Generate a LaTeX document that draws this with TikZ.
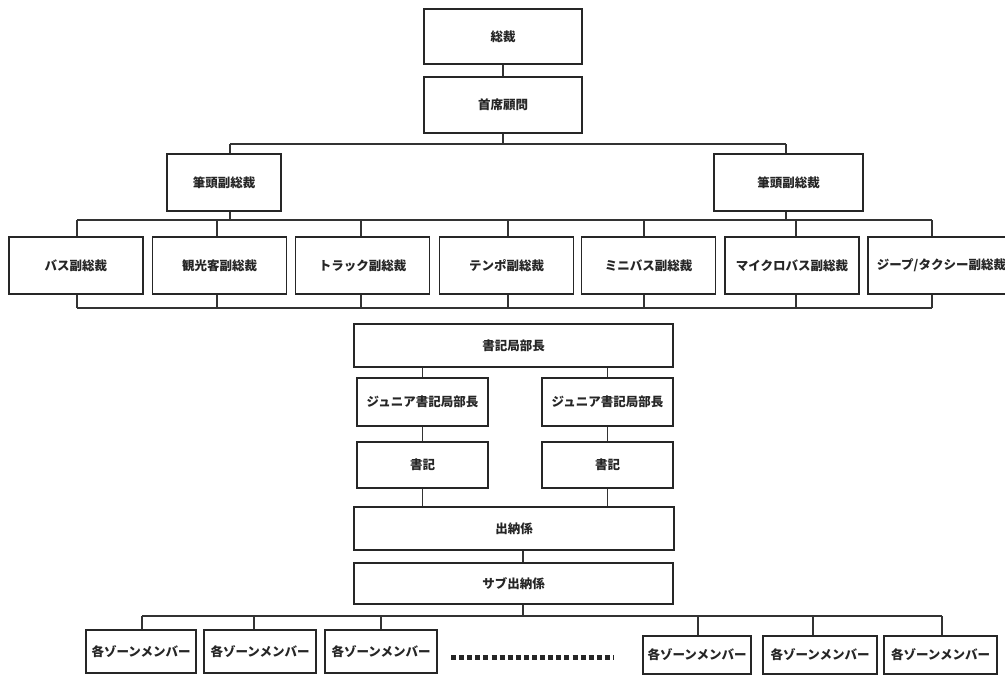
\documentclass[tikz,border=0pt]{standalone}
\usepackage{fontspec}
\newfontfamily\cjk{Noto Sans CJK JP}
\begin{document}
\begin{tikzpicture}[x=1pt,y=-1pt,
  box/.style={draw=black!85, line width=1.4pt, fill=white, inner sep=0pt, align=center,
    font=\cjk\bfseries\fontsize{12.5}{14}\selectfont, text=black!85},
  conn/.style={draw=black!80, line width=1.3pt}]
\useasboundingbox (0,0) rectangle (1005,675);
\clip (0,0) rectangle (1005,675);
\fill[white] (0,0) rectangle (1005,675);
% top
\node[box, minimum width=158pt, minimum height=55pt] (pres) at (503,36.5) {総裁};
\node[box, minimum width=158pt, minimum height=56pt] (adv) at (503,105) {首席顧問};
\node[box, minimum width=114pt, minimum height=57pt] (svpL) at (224,182.5) {筆頭副総裁};
\node[box, minimum width=149pt, minimum height=57pt] (svpR) at (788.5,182.5) {筆頭副総裁};
% vice presidents
\node[box, minimum width=134pt, minimum height=57pt] (vp1) at (76,265.5) {バス副総裁};
\node[box, minimum width=134pt, minimum height=57pt] (vp2) at (219.5,265.5) {観光客副総裁};
\node[box, minimum width=134pt, minimum height=57pt] (vp3) at (362.5,265.5) {トラック副総裁};
\node[box, minimum width=134pt, minimum height=57pt] (vp4) at (506.5,265.5) {テンポ副総裁};
\node[box, minimum width=134pt, minimum height=57pt] (vp5) at (648.5,265.5) {ミニバス副総裁};
\node[box, minimum width=134pt, minimum height=57pt] (vp6) at (792,265.5) {マイクロバス副総裁};
\node[box, minimum width=147pt, minimum height=57pt] (vp7) at (941.5,265.5) {ジープ/タクシー副総裁};
% secretariat
\node[box, minimum width=319pt, minimum height=43pt] (sec) at (513.5,345.5) {書記局部長};
\node[box, minimum width=131pt, minimum height=48pt] (jsL) at (422.5,402) {ジュニア書記局部長};
\node[box, minimum width=131pt, minimum height=48pt] (jsR) at (607.5,402) {ジュニア書記局部長};
\node[box, minimum width=131pt, minimum height=46pt] (clL) at (422.5,465) {書記};
\node[box, minimum width=131pt, minimum height=46pt] (clR) at (607.5,465) {書記};
\node[box, minimum width=320pt, minimum height=43pt] (cash) at (514,528.5) {出納係};
\node[box, minimum width=319pt, minimum height=41pt] (sub) at (513.5,583.5) {サブ出納係};
% members
\node[box, minimum width=110pt, minimum height=43pt] (m1) at (141,651.5) {各ゾーンメンバー};
\node[box, minimum width=112pt, minimum height=43pt] (m2) at (260,651.5) {各ゾーンメンバー};
\node[box, minimum width=112pt, minimum height=43pt] (m3) at (381,651.5) {各ゾーンメンバー};
\node[box, minimum width=108pt, minimum height=38pt] (m4) at (697,655) {各ゾーンメンバー};
\node[box, minimum width=114pt, minimum height=38pt] (m5) at (820,655) {各ゾーンメンバー};
\node[box, minimum width=113pt, minimum height=38pt] (m6) at (940.5,655) {各ゾーンメンバー};
% dots
\draw[black!85, line width=5pt, dash pattern=on 5pt off 3.1pt] (451,657) -- (614,657);
% connectors top
\draw[conn] (pres.south) -- (adv.north);
\coordinate (b1L) at (230,144);
\coordinate (b1R) at (786,144);
\draw[conn] (adv.south) -- (adv.south |- b1L);
\draw[conn] (b1L) -- (b1R);
\draw[conn] (b1L) -- (230,0 |- svpL.north);
\draw[conn] (b1R) -- (786,0 |- svpR.north);
\coordinate (b2L) at (77,220);
\coordinate (b2R) at (932,220);
\draw[conn] (230,0 |- svpL.south) -- (230,220);
\draw[conn] (786,0 |- svpR.south) -- (786,220);
\draw[conn] (b2L) -- (b2R);
\coordinate (b3L) at (77,308);
\coordinate (b3R) at (932,308);
\draw[conn] (b3L) -- (b3R);
\foreach \n/\x in {vp1/77,vp2/217,vp3/361,vp4/508,vp5/644,vp6/796,vp7/932}{
  \draw[conn] (\x,220) -- (\x,0 |- \n.north);
  \draw[conn] (\x,0 |- \n.south) -- (\x,308);
}
% secretariat connectors
\draw[conn] (sec.south -| jsL.north) -- (jsL.north);
\draw[conn] (sec.south -| jsR.north) -- (jsR.north);
\draw[conn] (jsL.south) -- (clL.north);
\draw[conn] (jsR.south) -- (clR.north);
\draw[conn] (clL.south) -- (clL.south |- cash.north);
\draw[conn] (clR.south) -- (clR.south |- cash.north);
\draw[conn] (523,0 |- cash.south) -- (523,0 |- sub.north);
\coordinate (b4L) at (142,616);
\coordinate (b4R) at (942,616);
\draw[conn] (523,0 |- sub.south) -- (523,616);
\draw[conn] (b4L) -- (b4R);
\foreach \n/\x in {m1/142,m2/254,m3/381,m4/698,m5/813,m6/942}{
  \draw[conn] (\x,616) -- (\x,0 |- \n.north);
}
\end{tikzpicture}
\end{document}
